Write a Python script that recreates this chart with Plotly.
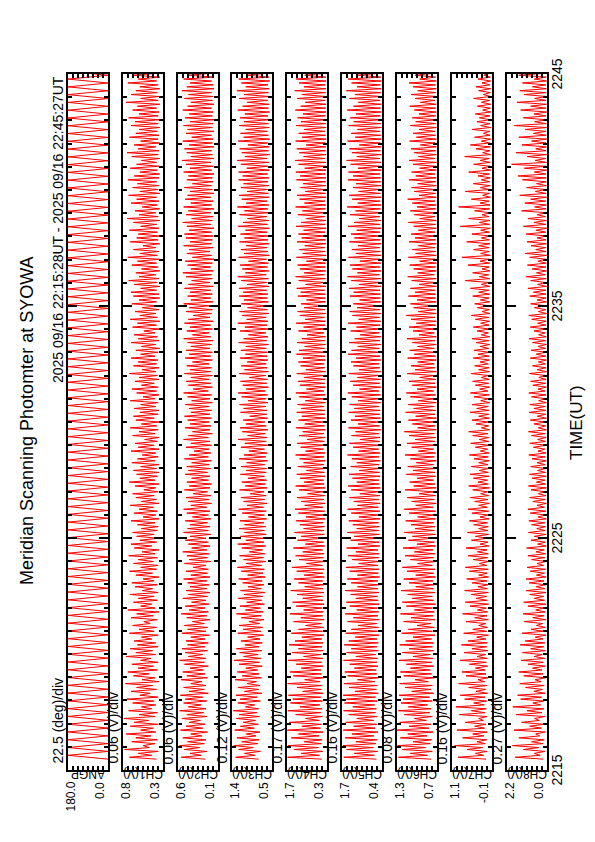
import plotly.graph_objects as go

# ---------------- data ----------------
title_text = "Meridian Scanning Photomter at SYOWA"
period_text = "2025 09/16 22:15:28UT - 2025 09/16 22:45:27UT"
start_min = 15 + 28 / 60.0   # 22:15:28
end_min = 45 + 27 / 60.0     # 22:45:27
time_ticks = [15, 25, 35, 45]
time_labels = ["2215", "2225", "2235", "2245"]

names = ["ANGP", "CH1(V)", "CH2(V)", "CH3(V)", "CH4(V)", "CH5(V)", "CH6(V)", "CH7(V)", "CH8(V)"]
units = ["22.5 (deg)/div", "0.06 (V)/div", "0.06 (V)/div", "0.12 (V)/div", "0.17 (V)/div",
         "0.16 (V)/div", "0.08 (V)/div", "0.16 (V)/div", "0.27 (V)/div"]
lows = [0.0, 0.3, 0.1, 0.5, 0.3, 0.4, 0.7, -0.1, 0.0]
highs = [180.0, 0.8, 0.6, 1.4, 1.7, 1.7, 1.3, 1.1, 2.2]
low_labels = ["0.0", "0.3", "0.1", "0.5", "0.3", "0.4", "0.7", "-0.1", "0.0"]
high_labels = ["180.0", "0.8", "0.6", "1.4", "1.7", "1.7", "1.3", "1.1", "2.2"]

ang = [
    0, 180, 0, 180, 0, 180, 0, 180, 0, 180, 0, 180, 0, 180, 0, 180, 0, 180, 0, 180, 0, 180, 0, 180, 0, 180, 0, 180, 0, 180,
    0, 180, 0, 180, 0, 180, 0, 180, 0, 180, 0, 180, 0, 180, 0, 180, 0, 180, 0, 180, 0, 180, 0, 180, 0, 180, 0, 180, 0, 180,
    0, 180, 0, 180, 0, 180, 0, 180, 0, 180, 0, 180, 0, 180, 0, 180, 0, 180, 0, 180, 0, 180, 0, 180, 0, 180, 0, 180, 0, 180,
    0, 180, 0, 180, 0, 180, 0, 180, 0, 180, 0, 180, 0, 180, 0, 180, 0, 180, 0, 180, 0, 180, 0, 180, 0, 180, 0, 180, 0, 180,
    0, 180, 0, 180, 0, 180, 0, 180, 0, 180, 0, 180, 0, 180, 0, 180, 0, 180, 0, 180, 0, 180, 0, 180, 0, 180, 0, 180, 0, 180,
    0, 180, 0, 180, 0, 180, 0, 180, 0, 180, 0, 180, 0, 180, 0, 180, 0, 180, 0, 180, 0, 180, 0, 180, 0, 180, 0, 180, 0, 180,
]

ch1 = [
    0.38, 0.72, 0.44, 0.61, 0.36, 0.78, 0.47, 0.55, 0.40, 0.69, 0.37, 0.64, 0.45, 0.76, 0.39, 0.58, 0.42, 0.71, 0.36, 0.66, 0.48, 0.79, 0.40, 0.60, 0.37, 0.73, 0.44, 0.57, 0.39, 0.68,
    0.41, 0.75, 0.36, 0.59, 0.46, 0.70, 0.38, 0.63, 0.43, 0.77, 0.35, 0.56, 0.40, 0.67, 0.47, 0.74, 0.37, 0.61, 0.42, 0.69, 0.36, 0.58, 0.45, 0.76, 0.39, 0.64, 0.43, 0.71, 0.36, 0.62,
    0.39, 0.66, 0.44, 0.57, 0.36, 0.72, 0.41, 0.60, 0.38, 0.68, 0.46, 0.54, 0.37, 0.70, 0.42, 0.63, 0.35, 0.74, 0.40, 0.58, 0.44, 0.67, 0.37, 0.61, 0.41, 0.71, 0.36, 0.56, 0.43, 0.65,
    0.37, 0.69, 0.41, 0.55, 0.35, 0.64, 0.43, 0.72, 0.38, 0.58, 0.36, 0.67, 0.42, 0.61, 0.37, 0.73, 0.40, 0.56, 0.35, 0.66, 0.44, 0.70, 0.38, 0.59, 0.36, 0.63, 0.41, 0.68, 0.37, 0.57,
    0.36, 0.62, 0.40, 0.70, 0.35, 0.55, 0.39, 0.66, 0.37, 0.60, 0.42, 0.71, 0.35, 0.57, 0.38, 0.64, 0.41, 0.68, 0.36, 0.54, 0.39, 0.65, 0.35, 0.72, 0.40, 0.59, 0.37, 0.63, 0.35, 0.67,
    0.38, 0.58, 0.35, 0.69, 0.40, 0.62, 0.36, 0.56, 0.39, 0.70, 0.35, 0.61, 0.41, 0.65, 0.37, 0.53, 0.35, 0.68, 0.40, 0.60, 0.36, 0.71, 0.38, 0.57, 0.35, 0.64, 0.41, 0.67, 0.36, 0.59,
    0.35, 0.66, 0.39, 0.58, 0.36, 0.71, 0.40, 0.55, 0.35, 0.63, 0.38, 0.69, 0.36, 0.57, 0.41, 0.65, 0.35, 0.60, 0.37, 0.72, 0.39, 0.56, 0.35, 0.67, 0.38, 0.61, 0.36, 0.70, 0.40, 0.58,
    0.36, 0.64, 0.34, 0.57, 0.39, 0.70, 0.35, 0.61, 0.37, 0.66, 0.40, 0.54, 0.35, 0.68, 0.38, 0.62, 0.34, 0.71, 0.37, 0.59, 0.39, 0.65, 0.35, 0.56, 0.36, 0.69, 0.38, 0.60, 0.34, 0.67,
    0.35, 0.70, 0.38, 0.58, 0.34, 0.66, 0.37, 0.73, 0.35, 0.60, 0.39, 0.64, 0.34, 0.57, 0.36, 0.69, 0.38, 0.62, 0.34, 0.74, 0.37, 0.59, 0.35, 0.67, 0.39, 0.55, 0.34, 0.71, 0.36, 0.63,
    0.34, 0.61, 0.37, 0.72, 0.35, 0.58, 0.38, 0.67, 0.34, 0.75, 0.36, 0.60, 0.39, 0.65, 0.34, 0.56, 0.37, 0.70, 0.35, 0.63, 0.38, 0.73, 0.34, 0.59, 0.36, 0.68, 0.35, 0.62, 0.38, 0.74,
    0.35, 0.66, 0.34, 0.59, 0.37, 0.71, 0.35, 0.63, 0.38, 0.57, 0.34, 0.69, 0.36, 0.75, 0.35, 0.61, 0.39, 0.66, 0.34, 0.58, 0.36, 0.72, 0.35, 0.64, 0.37, 0.60, 0.34, 0.70, 0.36, 0.65,
    0.34, 0.73, 0.36, 0.60, 0.35, 0.68, 0.38, 0.62, 0.34, 0.76, 0.36, 0.58, 0.35, 0.70, 0.37, 0.64, 0.34, 0.59, 0.36, 0.74, 0.38, 0.61, 0.34, 0.67, 0.35, 0.72, 0.37, 0.63, 0.34, 0.69,
]

ch2 = [
    0.26, 0.56, 0.31, 0.45, 0.24, 0.52, 0.33, 0.58, 0.27, 0.48, 0.25, 0.54, 0.30, 0.44, 0.23, 0.57, 0.29, 0.50, 0.26, 0.46, 0.32, 0.55, 0.24, 0.49, 0.28, 0.58, 0.25, 0.47, 0.31, 0.53,
    0.24, 0.51, 0.29, 0.57, 0.22, 0.46, 0.27, 0.53, 0.25, 0.44, 0.30, 0.56, 0.23, 0.49, 0.26, 0.54, 0.28, 0.45, 0.22, 0.52, 0.27, 0.58, 0.25, 0.47, 0.29, 0.51, 0.23, 0.55, 0.26, 0.48,
    0.22, 0.50, 0.26, 0.44, 0.21, 0.55, 0.25, 0.48, 0.23, 0.52, 0.27, 0.42, 0.20, 0.49, 0.24, 0.56, 0.22, 0.46, 0.26, 0.51, 0.21, 0.43, 0.25, 0.54, 0.23, 0.47, 0.20, 0.50, 0.24, 0.45,
    0.21, 0.48, 0.24, 0.53, 0.20, 0.44, 0.23, 0.50, 0.22, 0.41, 0.25, 0.52, 0.19, 0.46, 0.23, 0.49, 0.21, 0.54, 0.24, 0.43, 0.20, 0.47, 0.22, 0.51, 0.25, 0.45, 0.19, 0.53, 0.22, 0.48,
    0.20, 0.45, 0.23, 0.51, 0.19, 0.42, 0.22, 0.49, 0.20, 0.53, 0.24, 0.44, 0.18, 0.47, 0.21, 0.50, 0.19, 0.41, 0.23, 0.52, 0.20, 0.46, 0.18, 0.49, 0.22, 0.43, 0.20, 0.51, 0.23, 0.47,
    0.19, 0.49, 0.21, 0.43, 0.18, 0.52, 0.22, 0.46, 0.19, 0.40, 0.21, 0.50, 0.18, 0.44, 0.20, 0.53, 0.22, 0.47, 0.17, 0.42, 0.20, 0.51, 0.19, 0.45, 0.21, 0.48, 0.18, 0.52, 0.20, 0.44,
    0.18, 0.46, 0.21, 0.51, 0.17, 0.43, 0.20, 0.48, 0.18, 0.53, 0.22, 0.41, 0.17, 0.47, 0.19, 0.50, 0.21, 0.44, 0.17, 0.52, 0.19, 0.45, 0.18, 0.49, 0.21, 0.42, 0.17, 0.51, 0.19, 0.46,
    0.17, 0.50, 0.20, 0.44, 0.18, 0.48, 0.16, 0.53, 0.19, 0.42, 0.21, 0.49, 0.17, 0.45, 0.19, 0.52, 0.16, 0.47, 0.20, 0.41, 0.18, 0.50, 0.17, 0.46, 0.20, 0.53, 0.16, 0.44, 0.19, 0.48,
    0.17, 0.45, 0.19, 0.52, 0.16, 0.47, 0.20, 0.43, 0.17, 0.50, 0.18, 0.54, 0.16, 0.44, 0.19, 0.48, 0.17, 0.51, 0.15, 0.42, 0.18, 0.49, 0.20, 0.46, 0.16, 0.53, 0.18, 0.45, 0.17, 0.50,
    0.16, 0.52, 0.18, 0.46, 0.15, 0.49, 0.19, 0.54, 0.17, 0.43, 0.16, 0.50, 0.19, 0.47, 0.15, 0.53, 0.18, 0.44, 0.16, 0.51, 0.19, 0.48, 0.15, 0.45, 0.17, 0.52, 0.18, 0.42, 0.16, 0.49,
    0.17, 0.47, 0.15, 0.53, 0.18, 0.45, 0.16, 0.50, 0.19, 0.55, 0.15, 0.44, 0.17, 0.49, 0.18, 0.52, 0.15, 0.46, 0.17, 0.54, 0.16, 0.43, 0.18, 0.50, 0.15, 0.48, 0.17, 0.53, 0.16, 0.45,
    0.15, 0.51, 0.17, 0.46, 0.16, 0.54, 0.18, 0.48, 0.15, 0.44, 0.17, 0.52, 0.16, 0.47, 0.18, 0.55, 0.15, 0.49, 0.16, 0.45, 0.18, 0.53, 0.15, 0.47, 0.17, 0.50, 0.16, 0.54, 0.15, 0.48,
]

ch3 = [
    0.80, 1.32, 0.88, 1.12, 0.76, 1.25, 0.92, 1.36, 0.82, 1.18, 0.79, 1.29, 0.86, 1.08, 0.77, 1.34, 0.90, 1.21, 0.81, 1.15, 0.87, 1.30, 0.78, 1.24, 0.84, 1.37, 0.80, 1.10, 0.89, 1.27,
    0.76, 1.22, 0.83, 1.31, 0.73, 1.12, 0.80, 1.26, 0.77, 1.06, 0.85, 1.33, 0.74, 1.17, 0.79, 1.28, 0.82, 1.09, 0.72, 1.24, 0.78, 1.35, 0.75, 1.14, 0.81, 1.23, 0.73, 1.30, 0.79, 1.11,
    0.72, 1.20, 0.77, 1.05, 0.69, 1.27, 0.75, 1.15, 0.71, 1.24, 0.78, 1.02, 0.68, 1.19, 0.74, 1.30, 0.70, 1.10, 0.76, 1.22, 0.67, 1.07, 0.73, 1.26, 0.71, 1.13, 0.66, 1.21, 0.74, 1.04,
    0.68, 1.16, 0.72, 1.25, 0.65, 1.05, 0.70, 1.19, 0.67, 1.28, 0.73, 1.08, 0.64, 1.14, 0.69, 1.23, 0.66, 1.01, 0.71, 1.18, 0.64, 1.27, 0.68, 1.09, 0.70, 1.21, 0.63, 1.12, 0.67, 1.24,
    0.64, 1.12, 0.68, 1.22, 0.62, 1.03, 0.67, 1.17, 0.63, 1.25, 0.69, 1.06, 0.61, 1.14, 0.66, 1.20, 0.63, 0.99, 0.68, 1.23, 0.61, 1.10, 0.65, 1.18, 0.62, 1.04, 0.67, 1.21, 0.63, 1.08,
    0.62, 1.19, 0.66, 1.07, 0.60, 1.24, 0.64, 1.13, 0.61, 1.02, 0.67, 1.20, 0.59, 1.11, 0.63, 1.26, 0.61, 1.05, 0.65, 1.17, 0.59, 1.22, 0.63, 1.09, 0.66, 1.15, 0.60, 1.00, 0.62, 1.21,
    0.61, 1.14, 0.64, 1.23, 0.59, 1.04, 0.63, 1.18, 0.60, 1.26, 0.65, 1.08, 0.58, 1.16, 0.62, 1.21, 0.60, 1.01, 0.64, 1.24, 0.58, 1.12, 0.61, 1.19, 0.63, 1.06, 0.59, 1.22, 0.61, 1.10,
    0.60, 1.20, 0.63, 1.09, 0.58, 1.25, 0.62, 1.14, 0.59, 1.03, 0.64, 1.22, 0.57, 1.11, 0.61, 1.27, 0.59, 1.07, 0.63, 1.17, 0.57, 1.23, 0.60, 1.05, 0.62, 1.19, 0.58, 1.13, 0.60, 1.24,
    0.59, 1.15, 0.62, 1.24, 0.57, 1.06, 0.61, 1.19, 0.58, 1.27, 0.63, 1.10, 0.57, 1.17, 0.60, 1.22, 0.58, 1.03, 0.62, 1.25, 0.56, 1.13, 0.59, 1.20, 0.61, 1.08, 0.57, 1.23, 0.59, 1.12,
    0.58, 1.21, 0.61, 1.10, 0.56, 1.26, 0.60, 1.15, 0.57, 1.05, 0.62, 1.23, 0.56, 1.12, 0.59, 1.28, 0.57, 1.08, 0.61, 1.18, 0.56, 1.24, 0.58, 1.06, 0.60, 1.20, 0.57, 1.14, 0.59, 1.25,
    0.57, 1.16, 0.60, 1.25, 0.56, 1.07, 0.59, 1.20, 0.57, 1.28, 0.61, 1.11, 0.55, 1.18, 0.58, 1.23, 0.56, 1.04, 0.60, 1.26, 0.55, 1.14, 0.58, 1.21, 0.60, 1.09, 0.56, 1.24, 0.58, 1.13,
    0.57, 1.22, 0.59, 1.11, 0.55, 1.27, 0.58, 1.16, 0.56, 1.06, 0.60, 1.24, 0.55, 1.13, 0.58, 1.29, 0.56, 1.09, 0.59, 1.19, 0.55, 1.25, 0.57, 1.07, 0.59, 1.21, 0.56, 1.15, 0.58, 1.26,
]

ch4 = [
    0.48, 1.68, 0.56, 1.20, 0.45, 1.45, 0.60, 1.66, 0.50, 1.10, 0.47, 1.55, 0.58, 1.30, 0.44, 1.69, 0.53, 1.18, 0.49, 1.62, 0.57, 1.05, 0.46, 1.40, 0.52, 1.67, 0.48, 1.25, 0.55, 1.58,
    0.46, 1.50, 0.52, 1.65, 0.43, 1.15, 0.50, 1.35, 0.47, 1.68, 0.54, 1.08, 0.42, 1.48, 0.49, 1.60, 0.51, 1.20, 0.44, 1.38, 0.48, 1.66, 0.45, 1.12, 0.51, 1.52, 0.43, 1.30, 0.47, 1.63,
    0.43, 1.42, 0.48, 1.18, 0.41, 1.55, 0.46, 1.30, 0.42, 1.05, 0.49, 1.47, 0.40, 1.22, 0.45, 1.60, 0.43, 1.12, 0.47, 1.38, 0.40, 1.50, 0.44, 1.15, 0.46, 1.35, 0.41, 1.57, 0.44, 1.08,
    0.41, 1.30, 0.45, 1.45, 0.39, 1.10, 0.44, 1.36, 0.40, 1.52, 0.46, 1.02, 0.38, 1.28, 0.43, 1.40, 0.40, 1.15, 0.45, 1.48, 0.38, 1.06, 0.42, 1.33, 0.44, 1.20, 0.39, 1.44, 0.41, 1.12,
    0.39, 1.25, 0.43, 1.38, 0.37, 1.04, 0.42, 1.30, 0.38, 1.42, 0.44, 1.08, 0.37, 1.20, 0.41, 1.35, 0.38, 0.98, 0.43, 1.28, 0.36, 1.40, 0.40, 1.10, 0.42, 1.24, 0.37, 1.36, 0.39, 1.02,
    0.38, 1.32, 0.41, 1.12, 0.36, 1.26, 0.40, 1.40, 0.37, 1.05, 0.42, 1.22, 0.36, 1.34, 0.39, 1.00, 0.37, 1.28, 0.41, 1.15, 0.35, 1.38, 0.39, 1.08, 0.41, 1.30, 0.36, 1.18, 0.38, 1.36,
    0.37, 1.20, 0.40, 1.33, 0.35, 1.06, 0.39, 1.27, 0.36, 1.39, 0.41, 1.02, 0.35, 1.24, 0.38, 1.31, 0.36, 1.10, 0.40, 1.36, 0.35, 1.04, 0.38, 1.22, 0.40, 1.30, 0.35, 1.14, 0.37, 1.37,
    0.36, 1.28, 0.39, 1.08, 0.35, 1.35, 0.38, 1.18, 0.35, 1.00, 0.40, 1.30, 0.34, 1.12, 0.37, 1.38, 0.35, 1.06, 0.39, 1.25, 0.34, 1.33, 0.37, 1.10, 0.39, 1.21, 0.35, 1.02, 0.36, 1.32,
    0.35, 1.22, 0.38, 1.36, 0.34, 1.05, 0.37, 1.29, 0.35, 1.40, 0.39, 1.10, 0.34, 1.25, 0.36, 1.33, 0.35, 1.02, 0.38, 1.37, 0.33, 1.15, 0.36, 1.27, 0.38, 1.08, 0.34, 1.35, 0.35, 1.19,
    0.35, 1.30, 0.37, 1.12, 0.33, 1.38, 0.36, 1.20, 0.34, 1.04, 0.38, 1.32, 0.33, 1.16, 0.36, 1.40, 0.34, 1.09, 0.37, 1.26, 0.33, 1.35, 0.35, 1.06, 0.37, 1.23, 0.34, 1.14, 0.35, 1.37,
    0.34, 1.24, 0.36, 1.39, 0.33, 1.08, 0.35, 1.30, 0.34, 1.42, 0.37, 1.12, 0.33, 1.27, 0.35, 1.36, 0.34, 1.03, 0.36, 1.40, 0.33, 1.17, 0.35, 1.29, 0.37, 1.10, 0.33, 1.38, 0.34, 1.21,
    0.34, 1.33, 0.36, 1.14, 0.33, 1.41, 0.35, 1.22, 0.33, 1.06, 0.36, 1.35, 0.33, 1.18, 0.35, 1.43, 0.34, 1.11, 0.36, 1.28, 0.33, 1.38, 0.34, 1.08, 0.36, 1.25, 0.33, 1.16, 0.35, 1.40,
]

ch5 = [
    0.58, 1.64, 0.65, 1.30, 0.54, 1.55, 0.68, 1.67, 0.60, 1.25, 0.56, 1.60, 0.66, 1.38, 0.53, 1.66, 0.62, 1.32, 0.57, 1.58, 0.67, 1.22, 0.55, 1.48, 0.61, 1.65, 0.58, 1.35, 0.64, 1.62,
    0.55, 1.56, 0.61, 1.66, 0.52, 1.28, 0.58, 1.47, 0.55, 1.64, 0.63, 1.20, 0.51, 1.52, 0.57, 1.61, 0.59, 1.30, 0.53, 1.45, 0.56, 1.65, 0.54, 1.25, 0.60, 1.55, 0.52, 1.40, 0.56, 1.63,
    0.52, 1.48, 0.56, 1.27, 0.50, 1.58, 0.54, 1.40, 0.51, 1.18, 0.57, 1.52, 0.49, 1.33, 0.53, 1.60, 0.51, 1.22, 0.55, 1.45, 0.49, 1.56, 0.52, 1.25, 0.54, 1.42, 0.50, 1.59, 0.53, 1.20,
    0.50, 1.40, 0.53, 1.53, 0.48, 1.20, 0.52, 1.45, 0.49, 1.57, 0.54, 1.16, 0.47, 1.37, 0.51, 1.50, 0.49, 1.25, 0.53, 1.55, 0.47, 1.18, 0.50, 1.42, 0.52, 1.30, 0.48, 1.53, 0.50, 1.22,
    0.48, 1.35, 0.51, 1.48, 0.46, 1.15, 0.50, 1.40, 0.47, 1.52, 0.52, 1.20, 0.46, 1.32, 0.49, 1.46, 0.47, 1.12, 0.51, 1.40, 0.45, 1.50, 0.48, 1.22, 0.50, 1.36, 0.46, 1.47, 0.48, 1.14,
    0.47, 1.42, 0.50, 1.22, 0.45, 1.38, 0.49, 1.52, 0.46, 1.16, 0.51, 1.34, 0.45, 1.46, 0.48, 1.12, 0.46, 1.39, 0.50, 1.26, 0.44, 1.49, 0.48, 1.18, 0.50, 1.41, 0.45, 1.28, 0.47, 1.48,
    0.46, 1.30, 0.49, 1.45, 0.44, 1.17, 0.48, 1.38, 0.45, 1.51, 0.50, 1.13, 0.44, 1.34, 0.47, 1.43, 0.45, 1.20, 0.49, 1.48, 0.44, 1.15, 0.47, 1.33, 0.49, 1.41, 0.44, 1.24, 0.46, 1.50,
    0.45, 1.39, 0.48, 1.19, 0.44, 1.47, 0.47, 1.29, 0.44, 1.11, 0.49, 1.42, 0.43, 1.23, 0.46, 1.50, 0.44, 1.16, 0.48, 1.36, 0.43, 1.45, 0.46, 1.21, 0.48, 1.33, 0.44, 1.13, 0.45, 1.44,
    0.45, 1.32, 0.47, 1.47, 0.43, 1.15, 0.46, 1.40, 0.44, 1.52, 0.48, 1.20, 0.43, 1.36, 0.46, 1.44, 0.44, 1.12, 0.47, 1.49, 0.43, 1.25, 0.45, 1.38, 0.47, 1.18, 0.43, 1.46, 0.45, 1.30,
    0.44, 1.41, 0.46, 1.22, 0.43, 1.50, 0.46, 1.31, 0.43, 1.14, 0.47, 1.44, 0.42, 1.26, 0.45, 1.53, 0.43, 1.19, 0.46, 1.37, 0.42, 1.47, 0.45, 1.16, 0.47, 1.34, 0.43, 1.24, 0.44, 1.51,
    0.44, 1.34, 0.46, 1.49, 0.42, 1.18, 0.45, 1.42, 0.43, 1.55, 0.47, 1.22, 0.42, 1.38, 0.45, 1.46, 0.43, 1.14, 0.46, 1.52, 0.42, 1.27, 0.44, 1.40, 0.46, 1.20, 0.42, 1.48, 0.44, 1.32,
    0.43, 1.43, 0.45, 1.24, 0.42, 1.53, 0.45, 1.33, 0.42, 1.17, 0.46, 1.46, 0.42, 1.28, 0.44, 1.56, 0.43, 1.21, 0.45, 1.39, 0.42, 1.50, 0.44, 1.19, 0.46, 1.36, 0.42, 1.26, 0.43, 1.54,
]

ch6 = [
    0.79, 1.28, 0.84, 1.10, 0.77, 1.22, 0.87, 1.29, 0.80, 1.06, 0.78, 1.25, 0.85, 1.14, 0.76, 1.30, 0.82, 1.12, 0.79, 1.26, 0.86, 1.04, 0.77, 1.19, 0.81, 1.28, 0.79, 1.13, 0.84, 1.24,
    0.77, 1.21, 0.81, 1.27, 0.75, 1.08, 0.79, 1.18, 0.77, 1.26, 0.83, 1.03, 0.74, 1.20, 0.78, 1.25, 0.80, 1.10, 0.75, 1.16, 0.78, 1.27, 0.76, 1.06, 0.80, 1.22, 0.75, 1.12, 0.77, 1.26,
    0.75, 1.17, 0.78, 1.06, 0.73, 1.23, 0.77, 1.13, 0.74, 1.00, 0.79, 1.20, 0.73, 1.09, 0.76, 1.25, 0.74, 1.04, 0.77, 1.16, 0.72, 1.22, 0.75, 1.07, 0.77, 1.14, 0.73, 1.24, 0.75, 1.02,
    0.74, 1.12, 0.76, 1.20, 0.72, 1.02, 0.75, 1.15, 0.73, 1.22, 0.77, 0.99, 0.72, 1.10, 0.75, 1.18, 0.73, 1.04, 0.76, 1.21, 0.72, 1.00, 0.74, 1.13, 0.76, 1.07, 0.72, 1.19, 0.74, 1.03,
    0.73, 1.09, 0.75, 1.17, 0.72, 0.99, 0.74, 1.12, 0.72, 1.19, 0.76, 1.02, 0.71, 1.08, 0.74, 1.15, 0.72, 0.97, 0.75, 1.18, 0.71, 1.05, 0.73, 1.11, 0.75, 1.00, 0.72, 1.16, 0.73, 1.06,
    0.73, 1.14, 0.75, 1.01, 0.71, 1.10, 0.74, 1.18, 0.72, 0.98, 0.75, 1.08, 0.71, 1.15, 0.73, 1.03, 0.72, 1.12, 0.74, 1.19, 0.71, 0.99, 0.73, 1.07, 0.75, 1.13, 0.71, 1.02, 0.73, 1.17,
    0.72, 1.05, 0.74, 1.13, 0.71, 0.98, 0.73, 1.10, 0.72, 1.16, 0.75, 1.00, 0.71, 1.07, 0.73, 1.12, 0.72, 0.96, 0.74, 1.15, 0.71, 1.03, 0.73, 1.09, 0.74, 0.99, 0.71, 1.14, 0.72, 1.04,
    0.72, 1.11, 0.74, 0.99, 0.71, 1.07, 0.73, 1.15, 0.71, 0.97, 0.74, 1.06, 0.71, 1.12, 0.72, 1.01, 0.71, 1.09, 0.73, 1.16, 0.71, 0.98, 0.72, 1.05, 0.74, 1.10, 0.71, 1.00, 0.72, 1.13,
    0.72, 1.03, 0.73, 1.10, 0.71, 0.97, 0.73, 1.08, 0.71, 1.14, 0.74, 0.99, 0.71, 1.05, 0.72, 1.11, 0.71, 0.96, 0.73, 1.13, 0.71, 1.02, 0.72, 1.07, 0.73, 0.98, 0.71, 1.12, 0.72, 1.03,
    0.71, 1.09, 0.73, 0.98, 0.71, 1.05, 0.72, 1.13, 0.71, 0.96, 0.73, 1.04, 0.71, 1.10, 0.72, 1.00, 0.71, 1.07, 0.73, 1.14, 0.71, 0.97, 0.72, 1.04, 0.73, 1.08, 0.71, 0.99, 0.72, 1.12,
    0.71, 1.02, 0.73, 1.08, 0.71, 0.96, 0.72, 1.06, 0.71, 1.12, 0.73, 0.98, 0.71, 1.04, 0.72, 1.09, 0.71, 0.95, 0.73, 1.11, 0.71, 1.01, 0.72, 1.06, 0.73, 0.97, 0.71, 1.10, 0.72, 1.02,
    0.71, 1.07, 0.72, 0.97, 0.71, 1.04, 0.72, 1.11, 0.71, 0.95, 0.73, 1.03, 0.71, 1.09, 0.72, 0.99, 0.71, 1.06, 0.72, 1.12, 0.71, 0.96, 0.72, 1.03, 0.73, 1.07, 0.71, 0.98, 0.72, 1.10,
]

ch7 = [
    0.08, 0.92, 0.15, 0.40, 0.05, 0.65, 0.18, 1.02, 0.10, 0.35, 0.06, 0.78, 0.14, 0.48, 0.04, 0.95, 0.12, 0.42, 0.08, 0.70, 0.16, 0.30, 0.05, 0.88, 0.11, 0.52, 0.07, 0.98, 0.13, 0.45,
    0.06, 0.72, 0.11, 0.85, 0.03, 0.38, 0.09, 0.60, 0.05, 0.90, 0.12, 0.32, 0.02, 0.68, 0.08, 0.80, 0.10, 0.40, 0.03, 0.58, 0.07, 0.86, 0.04, 0.35, 0.09, 0.74, 0.02, 0.50, 0.06, 0.82,
    0.04, 0.62, 0.08, 0.36, 0.01, 0.75, 0.06, 0.48, 0.03, 0.30, 0.09, 0.68, 0.01, 0.42, 0.05, 0.78, 0.03, 0.34, 0.07, 0.56, 0.00, 0.70, 0.04, 0.38, 0.06, 0.52, 0.01, 0.72, 0.04, 0.32,
    0.02, 0.50, 0.05, 0.66, 0.00, 0.30, 0.04, 0.58, 0.01, 0.70, 0.06, 0.28, -0.01, 0.46, 0.03, 0.62, 0.01, 0.34, 0.05, 0.68, -0.01, 0.26, 0.02, 0.52, 0.04, 0.40, 0.00, 0.64, 0.02, 0.30,
    0.01, 0.45, 0.03, 0.58, -0.01, 0.26, 0.02, 0.50, 0.00, 0.62, 0.04, 0.30, -0.02, 0.42, 0.02, 0.55, 0.00, 0.24, 0.03, 0.48, -0.02, 0.60, 0.01, 0.32, 0.03, 0.46, -0.01, 0.56, 0.01, 0.28,
    0.00, 0.52, 0.02, 0.30, -0.02, 0.44, 0.01, 0.58, -0.01, 0.25, 0.03, 0.40, -0.02, 0.54, 0.00, 0.28, -0.01, 0.48, 0.02, 0.60, -0.03, 0.22, 0.00, 0.38, 0.02, 0.50, -0.02, 0.30, 0.00, 0.56,
    -0.01, 0.36, 0.01, 0.50, -0.03, 0.24, 0.00, 0.44, -0.02, 0.55, 0.02, 0.27, -0.03, 0.40, 0.00, 0.48, -0.02, 0.22, 0.01, 0.52, -0.03, 0.30, -0.01, 0.42, 0.01, 0.26, -0.03, 0.46, -0.01, 0.32,
    -0.02, 0.44, 0.00, 0.26, -0.03, 0.38, -0.01, 0.50, -0.03, 0.22, 0.01, 0.35, -0.04, 0.46, -0.01, 0.24, -0.03, 0.40, 0.00, 0.52, -0.04, 0.20, -0.02, 0.34, 0.00, 0.42, -0.03, 0.25, -0.01, 0.48,
    -0.03, 0.30, -0.01, 0.55, -0.04, 0.22, -0.02, 0.70, -0.03, 0.28, 0.00, 0.48, -0.04, 0.20, -0.02, 0.62, -0.03, 0.26, -0.01, 0.80, -0.05, 0.24, -0.02, 0.45, -0.01, 0.30, -0.04, 0.66, -0.02, 0.22,
    -0.04, 0.50, -0.02, 0.24, -0.05, 0.85, -0.03, 0.28, -0.04, 0.60, -0.01, 0.20, -0.05, 0.42, -0.03, 0.90, -0.04, 0.26, -0.02, 0.52, -0.05, 0.18, -0.03, 0.70, -0.02, 0.25, -0.05, 0.46, -0.03, 0.22,
    -0.05, 0.32, -0.03, 0.60, -0.06, 0.20, -0.04, 0.45, -0.05, 0.26, -0.02, 0.72, -0.06, 0.18, -0.04, 0.38, -0.05, 0.55, -0.03, 0.22, -0.06, 0.42, -0.04, 0.16, -0.03, 0.50, -0.06, 0.24, -0.04, 0.35,
    -0.05, 0.28, -0.04, 0.40, -0.06, 0.18, -0.05, 0.34, -0.06, 0.22, -0.03, 0.45, -0.06, 0.16, -0.05, 0.30, -0.06, 0.38, -0.04, 0.20, -0.06, 0.32, -0.05, 0.15, -0.04, 0.36, -0.06, 0.20, -0.05, 0.26,
]

ch8 = [
    0.20, 1.75, 0.38, 0.70, 0.12, 1.30, 0.45, 1.90, 0.22, 0.85, 0.15, 1.55, 0.40, 0.62, 0.10, 1.82, 0.30, 0.95, 0.18, 1.40, 0.42, 0.68, 0.12, 1.70, 0.28, 1.10, 0.16, 1.88, 0.35, 0.78,
    0.18, 1.45, 0.30, 1.62, 0.10, 0.72, 0.25, 1.18, 0.15, 1.50, 0.32, 0.66, 0.08, 1.28, 0.22, 1.55, 0.28, 0.80, 0.10, 1.05, 0.20, 1.42, 0.12, 0.70, 0.26, 1.35, 0.08, 0.90, 0.18, 1.48,
    0.12, 1.20, 0.22, 0.65, 0.06, 1.38, 0.18, 0.88, 0.10, 0.58, 0.24, 1.25, 0.06, 0.78, 0.16, 1.32, 0.10, 0.62, 0.20, 1.05, 0.05, 1.28, 0.14, 0.70, 0.18, 0.95, 0.06, 1.15, 0.12, 0.60,
    0.10, 0.98, 0.16, 1.15, 0.05, 0.58, 0.14, 0.92, 0.08, 1.10, 0.18, 0.55, 0.04, 0.85, 0.12, 1.05, 0.08, 0.60, 0.15, 1.12, 0.04, 0.52, 0.10, 0.88, 0.14, 0.70, 0.05, 1.02, 0.10, 0.56,
    0.08, 0.85, 0.12, 1.00, 0.04, 0.50, 0.10, 0.92, 0.06, 1.05, 0.14, 0.55, 0.03, 0.78, 0.09, 0.95, 0.06, 0.48, 0.12, 0.88, 0.03, 1.02, 0.08, 0.58, 0.11, 0.82, 0.04, 0.96, 0.08, 0.52,
    0.07, 0.90, 0.10, 0.55, 0.03, 0.82, 0.09, 1.00, 0.05, 0.50, 0.12, 0.75, 0.03, 0.95, 0.08, 0.52, 0.05, 0.86, 0.10, 1.02, 0.03, 0.48, 0.07, 0.72, 0.10, 0.92, 0.04, 0.54, 0.07, 0.98,
    0.06, 0.72, 0.09, 0.94, 0.03, 0.46, 0.08, 0.85, 0.05, 1.00, 0.11, 0.50, 0.03, 0.78, 0.07, 0.90, 0.05, 0.45, 0.09, 0.96, 0.02, 0.55, 0.06, 0.80, 0.09, 0.48, 0.03, 0.92, 0.06, 0.60,
    0.05, 0.88, 0.08, 0.50, 0.03, 0.80, 0.07, 0.98, 0.04, 0.46, 0.10, 0.72, 0.02, 0.92, 0.06, 0.52, 0.04, 0.84, 0.08, 1.00, 0.02, 0.47, 0.06, 0.70, 0.08, 0.90, 0.03, 0.55, 0.05, 0.95,
    0.05, 0.75, 0.07, 1.05, 0.02, 0.52, 0.06, 0.90, 0.04, 1.15, 0.09, 0.58, 0.02, 0.82, 0.06, 1.08, 0.04, 0.50, 0.08, 0.95, 0.02, 1.20, 0.05, 0.62, 0.07, 0.88, 0.03, 1.10, 0.05, 0.55,
    0.04, 1.15, 0.07, 0.60, 0.02, 1.30, 0.06, 0.72, 0.03, 1.05, 0.08, 0.55, 0.02, 1.40, 0.05, 0.68, 0.03, 1.22, 0.07, 0.90, 0.02, 1.50, 0.05, 0.64, 0.07, 1.12, 0.03, 0.58, 0.04, 1.35,
    0.04, 1.60, 0.06, 0.70, 0.02, 1.25, 0.05, 1.95, 0.03, 0.66, 0.07, 1.10, 0.02, 1.70, 0.05, 0.62, 0.03, 1.38, 0.06, 0.85, 0.02, 1.55, 0.04, 0.75, 0.06, 1.20, 0.02, 1.80, 0.04, 0.68,
    0.04, 1.30, 0.06, 0.72, 0.02, 1.45, 0.05, 0.90, 0.03, 1.65, 0.06, 0.68, 0.02, 1.25, 0.05, 1.50, 0.03, 0.80, 0.06, 1.35, 0.02, 0.70, 0.04, 1.55, 0.06, 0.95, 0.02, 1.20, 0.04, 0.76,
]

series = [ang, ch1, ch2, ch3, ch4, ch5, ch6, ch7, ch8]

# ---------------- layout ----------------
W, H = 595, 842
FONT = "Liberation Sans, Arial, Helvetica, sans-serif"
panel_left = [60, 115, 170, 224, 279, 334, 389, 444, 499]
panel_w = 40
plot_top, plot_bottom = 66, 762


def px(xp):
    return xp / W


def py(yp):
    return 1 - yp / H


def sample_times(n):
    return [start_min + i * (end_min - start_min) / (n - 1) for i in range(n)]


fig = go.Figure()
layout = {}
annotations = []


def vtext(text, x, y, size, yanchor="middle", yref="paper", yshift=0):
    # rotated text renders slightly right of its nominal centre; compensate
    return dict(text=text, xref="paper", yref=yref, x=x, y=y, xanchor="center", yanchor=yanchor,
                textangle=-90, showarrow=False, borderpad=0,
                xshift=-round(0.22 * size), yshift=yshift,
                font=dict(family=FONT, size=size, color="black"))


for k in range(9):
    xa = "x" if k == 0 else f"x{k + 1}"
    ya = "y" if k == 0 else f"y{k + 1}"
    vals = series[k]
    fig.add_trace(go.Scatter(
        x=vals, y=sample_times(len(vals)), mode="lines",
        line=dict(color="#ff0000", width=1),
        xaxis=xa, yaxis=ya, showlegend=False, hoverinfo="skip"))

    lo, hi = lows[k], highs[k]
    left = panel_left[k]
    right = left + panel_w
    layout["xaxis" if k == 0 else f"xaxis{k + 1}"] = dict(
        domain=[px(left), px(right)], range=[hi, lo], anchor=ya,
        tickmode="array", tickvals=[lo + j * (hi - lo) / 8 for j in range(9)],
        ticks="inside", ticklen=4, tickwidth=1.5, tickcolor="black",
        showticklabels=False, showline=True, linewidth=2, linecolor="black",
        mirror="ticks", showgrid=False, zeroline=False, fixedrange=True)
    ydict = dict(
        domain=[py(plot_bottom), py(plot_top)], range=[15, 45], anchor=xa,
        tickmode="array", tickvals=[25, 35],
        ticks="inside", ticklen=9, tickwidth=2, tickcolor="black",
        minor=dict(tickmode="array", tickvals=[m for m in range(16, 45) if m not in (25, 35)],
                   ticks="inside", ticklen=4, tickwidth=1.5, tickcolor="black"),
        showticklabels=False, showline=True, linewidth=2, linecolor="black",
        mirror="ticks", showgrid=False, zeroline=False, fixedrange=True)
    if k > 0:
        ydict["matches"] = "y"
    layout["yaxis" if k == 0 else f"yaxis{k + 1}"] = ydict

    # unit per division label (left of panel, rotated)
    annotations.append(vtext(units[k], px(left - 7.5), py(757), 14, yanchor="bottom"))
    # channel name (upside down under the panel)
    annotations.append(dict(
        text=names[k], xref="paper", yref="paper", x=px(left + panel_w / 2), y=py(770.5),
        xanchor="center", yanchor="middle", textangle=180, showarrow=False, borderpad=0,
        yshift=4, font=dict(family=FONT, size=12, color="black")))
    # scale labels
    annotations.append(vtext(high_labels[k], px(left + 5.5), py(778), 12, yanchor="top", yshift=5))
    annotations.append(vtext(low_labels[k], px(right - 5.5), py(778), 12, yanchor="top", yshift=5))

# time tick labels at right of last panel
for tv, tl in zip(time_ticks, time_labels):
    annotations.append(vtext(tl, px(551.5), tv, 14, yref="y9"))

annotations.append(vtext("TIME(UT)", px(572), py(415), 17))
annotations.append(vtext(title_text, px(23), py(413), 18))
annotations.append(vtext(period_text, px(52.5), py(67), 14, yanchor="top"))

fig.update_layout(
    width=W, height=H, margin=dict(l=0, r=0, t=0, b=0),
    paper_bgcolor="white", plot_bgcolor="white",
    annotations=annotations, showlegend=False, **layout)

fig.write_html("out.html")
